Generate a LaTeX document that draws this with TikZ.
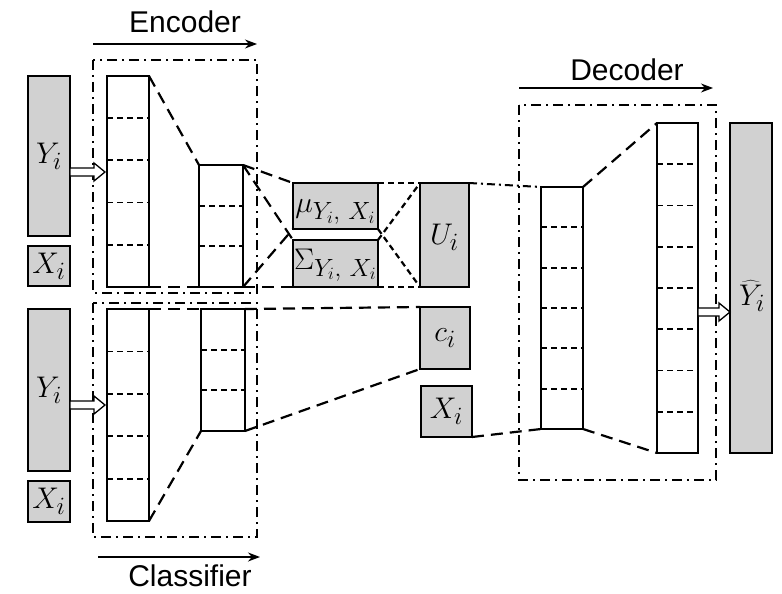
\documentclass[tikz,border=0pt]{standalone}
\usepackage{graphicx}
\usepackage{fontspec}
\setsansfont{Liberation Sans}
\usetikzlibrary{calc,arrows.meta}
\newcommand\nnlayer[6]{% name, x, y, w, h, cells
  \node[layerbox, minimum width=#4, minimum height=#5] (#1) at (#2+#4/2, #3+#5/2) {};
  \foreach \k in {1,...,\numexpr#6-1\relax}{
    \draw[divider] ($(#1.north west)!\k/#6!(#1.south west)$) -- ($(#1.north east)!\k/#6!(#1.south east)$);
  }
}
\newcommand\hollowarrow[2]{% start coordinate, end coordinate (horizontal)
  \draw[line width=1.3pt, fill=white, line join=miter]
    ($(#1)+(0,-4)$) -- ($(#2)+(-11,-4)$) -- ($(#2)+(-11,-9)$) -- (#2) -- ($(#2)+(-11,9)$) -- ($(#2)+(-11,4)$) -- ($(#1)+(0,4)$) -- cycle;
}
\newcommand\ml[1]{\scalebox{1.2}{\fontsize{24.88}{26}\selectfont$#1$}}
\newcommand\subtxt[1]{\mbox{\fontsize{20.74}{22}\selectfont$#1$}}
\begin{document}
\begin{tikzpicture}[x=1pt,y=-1pt,
  graybox/.style={draw, line width=2.2pt, fill=black!18, inner sep=0pt, outer sep=0pt},
  layerbox/.style={draw, line width=2.2pt, fill=white, inner sep=0pt, outer sep=0pt},
  divider/.style={line width=1.8pt, dash pattern=on 6pt off 4pt},
  conn/.style={line width=2.2pt, dash pattern=on 12pt off 7pt},
  sconn/.style={line width=2.2pt, dash pattern=on 6pt off 4pt},
  dconn/.style={line width=2pt, dash pattern=on 8pt off 4pt on 2pt off 4pt},
  region/.style={line width=2pt, dash pattern=on 10pt off 5pt on 2pt off 5pt},
  title/.style={font=\sffamily\fontsize{30}{32}\selectfont},
  mlabel/.style={inner sep=0pt},
  arr/.style={line width=1.3pt, -{Stealth[length=12pt, width=9pt]}}
]
\useasboundingbox (0,0) rectangle (782,594);

% ---------- region boxes ----------
\draw[region] (93,60) rectangle (257,293);
\draw[region] (93,303) rectangle (257,537);
\draw[region] (519,105) rectangle (716,480);

% ---------- titles ----------
\node[title] (enc) at (185,22) {Encoder};
\coordinate (enc0) at (93,44); \coordinate (enc1) at (257,44);
\draw[arr] (enc0) -- (enc1);
\node[title] (cls) at (190,576) {Classifier};
\coordinate (cls0) at (98,557); \coordinate (cls1) at (260,557);
\draw[arr] (cls0) -- (cls1);
\node[title] (dec) at (627,70) {Decoder};
\coordinate (dec0) at (519,88); \coordinate (dec1) at (713,88);
\draw[arr] (dec0) -- (dec1);

% ---------- input boxes ----------
\node[graybox, minimum width=42, minimum height=160] (y1) at (49,156) {};
\node[mlabel] at (49,156) {\ml{Y_i}};
\node[graybox, minimum width=42, minimum height=40] (x1) at (49,266) {};
\node[mlabel] at (49,266) {\ml{X_i}};
\node[graybox, minimum width=42, minimum height=162] (y2) at (49,390) {};
\node[mlabel] at (49,390) {\ml{Y_i}};
\node[graybox, minimum width=42, minimum height=41] (x2) at (49,501.5) {};
\node[mlabel] at (49,501.5) {\ml{X_i}};

% ---------- encoder ----------
\nnlayer{e1}{107}{76}{42}{211}{5}
\nnlayer{e2}{199}{165}{44}{122}{3}
\draw[conn] (e1.north east) -- (e2.north west);
\draw[conn] (e1.south east) -- (e2.south west);

% ---------- classifier ----------
\nnlayer{c1}{107}{309}{42}{212}{5}
\nnlayer{c2}{201}{309}{44}{122}{3}
\draw[conn] (c1.north east) -- (c2.north west);
\draw[conn] (c1.south east) -- (c2.south west);

% ---------- latent ----------
\node[graybox, minimum width=85, minimum height=46] (mu) at (335.5,206) {};
\node[mlabel] at (335.5,212) {\ml{\mu_{\subtxt{Y_i,\,X_i}}}};
\node[graybox, minimum width=85, minimum height=47] (sig) at (335.5,263.5) {};
\node[mlabel] at (335.5,265) {\ml{\Sigma_{\subtxt{Y_i,\,X_i}}}};
\draw[conn] (e2.north east) -- (mu.north west);
\draw[conn] (e2.north east) -- (sig.north west);
\draw[conn] (e2.south east) -- (mu.south west);
\draw[conn] (e2.south east) -- (sig.south west);

\node[graybox, minimum width=49, minimum height=104] (u) at (444.5,235) {};
\node[mlabel] at (444.5,237) {\ml{U_i}};
\draw[sconn] (mu.north east) -- (u.north west);
\draw[sconn] (sig.north east) -- (u.north west);
\draw[sconn] (mu.south east) -- (u.south west);
\draw[sconn] (sig.south east) -- (u.south west);

\node[graybox, minimum width=50, minimum height=62] (ci) at (445,338) {};
\node[mlabel] at (445,338) {\ml{c_i}};
\node[graybox, minimum width=51, minimum height=51] (x3) at (446.5,411.5) {};
\node[mlabel] at (446.5,411.5) {\ml{X_i}};
\draw[conn] (c2.north east) -- (ci.north west);
\draw[conn] (c2.south east) -- (ci.south west);

% ---------- decoder ----------
\nnlayer{d1}{541}{187}{42}{242}{6}
\nnlayer{d2}{657}{123}{41}{330}{8}
\draw[dconn] (u.north east) -- (d1.north west);
\draw[conn] (x3.south east) -- (d1.south west);
\draw[conn] (d1.north east) -- (d2.north west);
\draw[conn] (d1.south east) -- (d2.south west);

\node[graybox, minimum width=42, minimum height=330] (yh) at (751,288) {};
\node[mlabel] at (752,296) {\ml{\widehat{Y}_i}};

% ---------- hollow arrows ----------
\coordinate (h1a) at ($(y1.east)+(0,16)$); \coordinate (h1b) at (105,172);
\hollowarrow{h1a}{h1b}
\coordinate (h2a) at (y2.east|-0,405); \coordinate (h2b) at (105,405);
\hollowarrow{h2a}{h2b}
\coordinate (h3a) at (d2.east|-0,312); \coordinate (h3b) at (yh.west|-0,312);
\hollowarrow{h3a}{h3b}
\end{tikzpicture}
\end{document}
